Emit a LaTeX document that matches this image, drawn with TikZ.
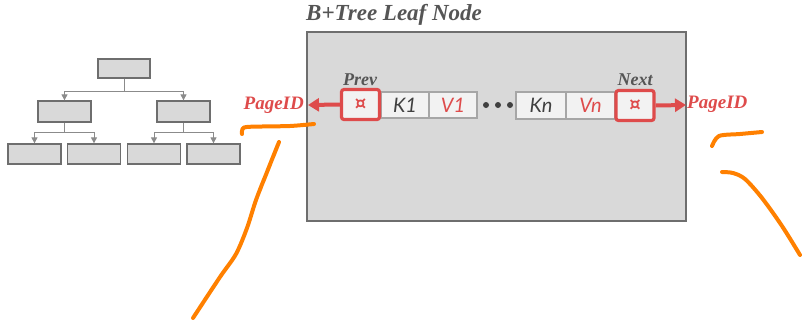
\documentclass[tikz,border=0pt]{standalone}
\usepackage{fontspec}
\setmainfont{Liberation Serif}
\newfontfamily\cellfont{Lato}
\newfontfamily\symfont{DejaVu Sans}
\usetikzlibrary{arrows.meta}
\definecolor{leafgray}{HTML}{D9D9D9}
\definecolor{cellgray}{HTML}{F2F2F2}
\definecolor{edgegray}{HTML}{6E6E6E}
\definecolor{titlegray}{HTML}{555555}
\definecolor{celltext}{HTML}{404040}
\definecolor{ptrred}{HTML}{DE4B4B}
\definecolor{penorange}{HTML}{FF8000}
\tikzset{
  treebox/.style={draw=edgegray, fill=leafgray, line width=1.3pt, inner sep=0pt,
    minimum width=53pt, minimum height=20pt},
  treeline/.style={draw=edgegray!80, line width=1pt},
  treeedge/.style={treeline, -{Triangle[length=6pt,width=6pt]}},
  cellbox/.style={draw=gray!70, fill=cellgray, line width=1.3pt, inner sep=0pt, text=celltext,
    minimum width=48pt, minimum height=26pt, font=\cellfont\itshape\fontsize{20}{20}\selectfont},
  ptrbox/.style={draw=ptrred, fill=cellgray, line width=3.2pt, rounded corners=2.5pt,
    inner sep=0pt, minimum width=38pt, minimum height=30pt, text=ptrred,
    font=\symfont\bfseries\fontsize{18}{18}\selectfont},
  ptrarrow/.style={draw=ptrred, line width=4pt, -{Triangle[length=11pt,width=13pt]}},
  tag/.style={font=\bfseries\itshape\fontsize{18}{18}\selectfont, text=titlegray, inner sep=0pt},
  pagetag/.style={font=\bfseries\itshape\fontsize{19}{19}\selectfont, text=ptrred, inner sep=0pt},
  pen/.style={draw=penorange, line width=4pt, line cap=round, line join=round}
}
\begin{document}
\begin{tikzpicture}[x=1pt,y=-1pt]
\useasboundingbox (0,0) rectangle (802,322);

% small B+tree on the left
\node[treebox, minimum width=52pt, minimum height=19pt] (root) at (124,68.5) {};
\node[treebox, minimum height=21pt] (ml) at (64.5,111.5) {};
\node[treebox, minimum height=21pt] (mr) at (183.5,111.5) {};
\node[treebox] (b1) at (34.5,154) {};
\node[treebox] (b2) at (94,154) {};
\node[treebox] (b3) at (154,154) {};
\node[treebox] (b4) at (213.5,154) {};
\coordinate (rj) at (124,91);
\coordinate (lj) at (64.5,132);
\coordinate (rj2) at (183.5,132);
\draw[treeline] (root.south) -- (rj);
\draw[treeedge] (rj) -| (ml.north);
\draw[treeedge] (rj) -| (mr.north);
\draw[treeline] (ml.south) -- (lj);
\draw[treeedge] (lj) -| (b1.north);
\draw[treeedge] (lj) -| (b2.north);
\draw[treeline] (mr.south) -- (rj2);
\draw[treeedge] (rj2) -| (b3.north);
\draw[treeedge] (rj2) -| (b4.north);

% leaf node page
\node[draw=edgegray, fill=leafgray, line width=1.3pt, inner sep=0pt,
  minimum width=379pt, minimum height=189pt] (leaf) at (496.5,126.5) {};
\node[anchor=west, inner sep=0pt, text=titlegray,
  font=\bfseries\itshape\fontsize{23}{23}\selectfont] (title) at (306,15) {B+Tree Leaf Node};

% key/value slots and sibling pointers
\node[cellbox] (k1) at (405,105) {K1};
\node[cellbox, text=ptrred] (v1) at (453,105) {V1};
\node[cellbox, minimum width=50pt, minimum height=27pt] (kn) at (541,105.5) {Kn};
\node[cellbox, minimum width=49pt, minimum height=27pt, text=ptrred] (vn) at (590.5,105.5) {Vn};
\node[ptrbox] (prev) at (360.5,104.5) {¤};
\node[ptrbox] (next) at (635,105.5) {¤};
\foreach \i/\x in {1/486,2/498,3/510}
  \fill[celltext] (\x,105) circle (3pt);

\node[tag] (prevlbl) at (360,80) {Prev};
\node[tag] (nextlbl) at (635,80) {Next};
\node[pagetag, anchor=east] (pidl) at (304,105) {PageID};
\node[pagetag, anchor=west] (pidr) at (687,104) {PageID};
\coordinate (lt) at (308,105);
\coordinate (rt) at (686,105);
\draw[ptrarrow] (prev.west) -- (lt);
\draw[ptrarrow] (next.east) -- (rt);

% hand-drawn pen strokes
\draw[pen] plot[smooth] coordinates {(242,134) (244,127.5) (262,126.5) (290,126) (314,124)};
\draw[pen] plot[smooth] coordinates {(279,142) (267,172) (256,200) (247,228) (236,254) (220,277) (193,318)};
\draw[pen] plot[smooth] coordinates {(712,146) (719,136) (740,134) (762,132)};
\draw[pen] plot[smooth] coordinates {(722,172) (733,173) (745,179) (762,198) (782,226) (800,255)};
\end{tikzpicture}
\end{document}
